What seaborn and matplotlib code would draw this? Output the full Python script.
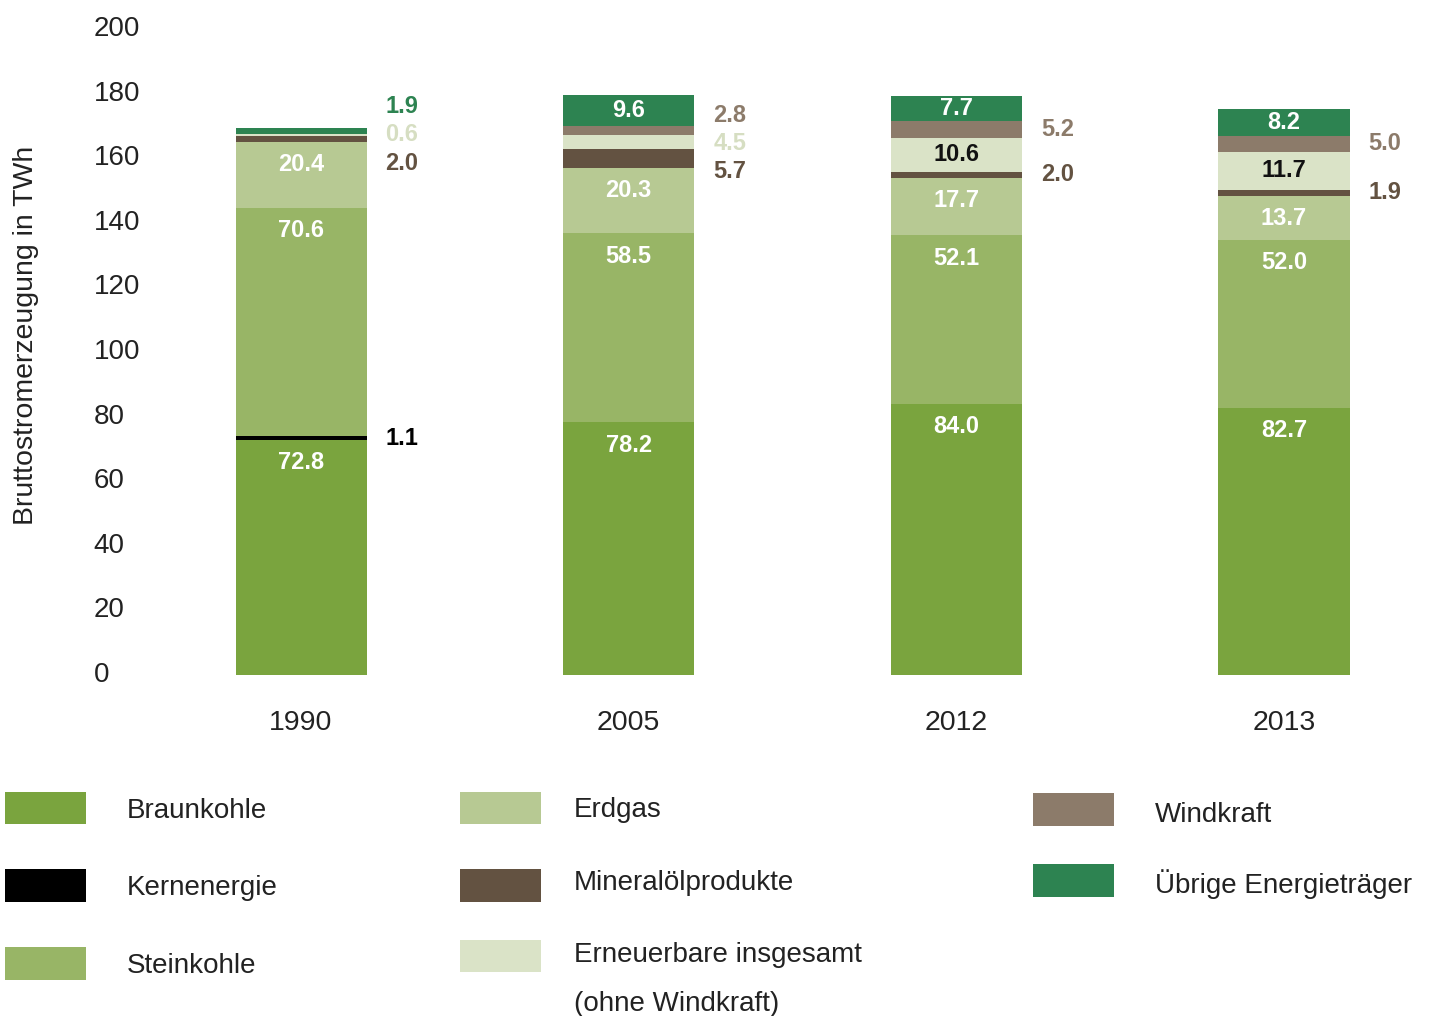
import numpy as np
import pandas as pd
import matplotlib
matplotlib.use("Agg")
import matplotlib.pyplot as plt
import matplotlib.transforms as mtransforms
import seaborn as sns
from matplotlib.patches import Rectangle

# ---------------- data ----------------
years = ["1990", "2005", "2012", "2013"]
braunkohle = [72.8, 78.2, 84.0, 82.7]
kernenergie = [1.1, 0.0, 0.0, 0.0]
steinkohle = [70.6, 58.5, 52.1, 52.0]
erdgas = [20.4, 20.3, 17.7, 13.7]
mineraloel = [2.0, 5.7, 2.0, 1.9]
erneuerbare = [0.6, 4.5, 10.6, 11.7]
windkraft = [0.0, 2.8, 5.2, 5.0]
uebrige = [1.9, 9.6, 7.7, 8.2]

series_names = ["Braunkohle", "Kernenergie", "Steinkohle", "Erdgas",
                "Mineralölprodukte", "Erneuerbare insgesamt", "Windkraft",
                "Übrige Energieträger"]
series_values = [braunkohle, kernenergie, steinkohle, erdgas,
                 mineraloel, erneuerbare, windkraft, uebrige]
colors = ["#7aa43e", "#000000", "#98b566", "#b7c993",
          "#635241", "#dae3c7", "#8c7b6a", "#2d8351"]
label_colors_out = ["#ffffff", "#000000", "#ffffff", "#ffffff",
                    "#635241", "#d6dec2", "#8c7b6a", "#2d8351"]
label_colors_in = ["#ffffff", "#ffffff", "#ffffff", "#ffffff",
                   "#ffffff", "#111111", "#ffffff", "#ffffff"]

y_ticks = [0, 20, 40, 60, 80, 100, 120, 140, 160, 180, 200]
y_label = "Bruttostromerzeugung in TWh"

# ---------------- style ----------------
sns.set_theme(style="white")
plt.rcParams["font.family"] = ["Liberation Sans", "DejaVu Sans"]
TXT = "#222222"

W, H = 1429, 1016
AX_L, AX_R, AX_B, AX_T = 150, 1420, 675, 29
fig = plt.figure(figsize=(W / 100, H / 100), dpi=100)
ax = fig.add_axes([AX_L / W, (H - AX_B) / H, (AX_R - AX_L) / W, (AX_B - AX_T) / H])

vals = np.array(series_values)           # (n_series, n_years)
cum = np.cumsum(vals, axis=0)

# stacked bars drawn from the top layer downwards
for k in range(len(series_names) - 1, -1, -1):
    df = pd.DataFrame({"Jahr": years, "Wert": cum[k]})
    sns.barplot(data=df, x="Jahr", y="Wert", color=colors[k], width=0.4,
                linewidth=0, saturation=1, ax=ax, order=years)

ax.set_xlim(-0.461, 3.415)
ax.set_ylim(0, 200)
ax.set_yticks(y_ticks)
ax.set_yticklabels([str(t) for t in y_ticks], ha="left")
ax.tick_params(axis="y", length=0, pad=40.5, labelsize=20, labelcolor=TXT)
ax.tick_params(axis="x", length=0, pad=25, labelsize=20.5, labelcolor=TXT)
shift_up = mtransforms.ScaledTranslation(0, 3 / 100, fig.dpi_scale_trans)
for lab in ax.get_yticklabels():
    lab.set_transform(lab.get_transform() + shift_up)
for s in ax.spines.values():
    s.set_visible(False)
ax.grid(False)
ax.set_xlabel("")
ax.set_ylabel(y_label, fontsize=20.5, color=TXT)
ax.yaxis.set_label_coords(-(AX_L - 39) / (AX_R - AX_L),
                          (AX_B - 335) / (AX_B - AX_T))

# ---------------- value labels ----------------
def spread(centers, s):
    groups = [[i] for i in range(len(centers))]
    def pos(g):
        m = np.mean([centers[i] for i in g])
        n = len(g)
        return [m + (j - (n - 1) / 2) * s for j in range(n)]
    changed = True
    while changed:
        changed = False
        for gi in range(len(groups) - 1):
            a, b = pos(groups[gi]), pos(groups[gi + 1])
            if b[0] - a[-1] < s:
                groups[gi] = groups[gi] + groups[gi + 1]
                del groups[gi + 1]
                changed = True
                break
    out = []
    for g in groups:
        out += pos(g)
    return out

for j in range(len(years)):
    outside = []
    for k in range(len(series_names)):
        v = vals[k, j]
        if v <= 0:
            continue
        top = cum[k, j]
        if v >= 7:
            y = top - 7 if v >= 12 else top - v / 2
            ax.text(j, y, f"{v:.1f}", ha="center", va="center",
                    fontsize=17, fontweight="bold", color=label_colors_in[k])
        else:
            outside.append((top - v / 2, k, v))
    outside.sort()
    if outside:
        ys = spread([o[0] for o in outside], 8.7)
        for (c, k, v), y in zip(outside, ys):
            ax.text(j + 0.2 + 0.058, y, f"{v:.1f}", ha="left", va="center",
                    fontsize=17, fontweight="bold", color=label_colors_out[k])

# ---------------- legend ----------------
def fx(px):
    return px / W

def fy(py):
    return 1 - py / H

legend_layout = [
    # (series index, patch x0, patch x1, patch y0, patch y1, text x, text baseline)
    (0, 5, 86, 792, 824, 127, 818),
    (1, 5, 86, 869, 902, 127, 895),
    (2, 5, 86, 947, 980, 127, 973),
    (3, 460, 541, 792, 824, 574, 817),
    (4, 460, 541, 869, 902, 574, 890),
    (5, 460, 541, 940, 972, 574, 962),
    (6, 1033, 1114, 793, 826, 1155, 822),
    (7, 1033, 1114, 864, 897, 1155, 893),
]
for k, x0, x1, y0, y1, tx, ty in legend_layout:
    fig.add_artist(Rectangle((fx(x0), fy(y1)), fx(x1) - fx(x0), fy(y0) - fy(y1),
                             transform=fig.transFigure, facecolor=colors[k],
                             edgecolor="none"))
    fig.text(fx(tx), fy(ty), series_names[k], ha="left", va="baseline",
             fontsize=20, color=TXT)
fig.text(fx(574), fy(1011), "(ohne Windkraft)", ha="left", va="baseline",
         fontsize=20, color=TXT)

fig.savefig("out.png", dpi=100)
